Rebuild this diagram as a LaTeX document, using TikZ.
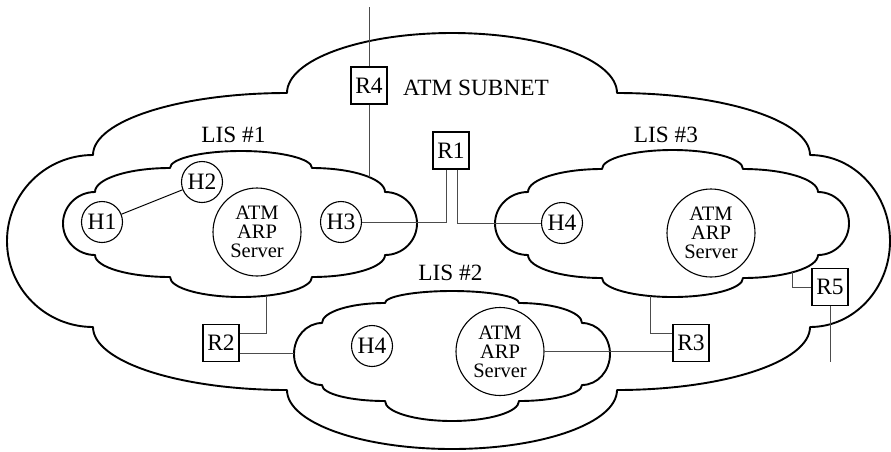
\documentclass[tikz,border=0pt]{standalone}
\usepackage{fontspec}
\setmainfont{Liberation Serif}
\begin{document}
\def\cloudsplitx#1,#2,#3,#4\relax{\def\cxL{#1}\def\cxa{#2}\def\cxb{#3}\def\cxR{#4}}
\def\cloudsplity#1,#2,#3,#4\relax{\def\cyt{#1}\def\cys{#2}\def\cyS{#3}\def\cyb{#4}}
\def\cloudsplitr#1,#2,#3,#4\relax{\def\crt{#1}\def\crb{#2}\def\crl{#3}\def\crr{#4}}
\newcommand\cloudshape[3]{%
  \cloudsplitx#1\relax\cloudsplity#2\relax\cloudsplitr#3\relax
  \pgfmathsetmacro\chw{(\cxb-\cxa)/2}%
  \pgfmathsetmacro\cqr{\cxR-\cxb}%
  \pgfmathsetmacro\cql{\cxa-\cxL}%
  \pgfmathsetmacro\cqt{\cys-\cyt}%
  \pgfmathsetmacro\cqb{\cyb-\cyS}%
  \pgfmathsetmacro\csh{(\cyS-\cys)/2}%
  \draw[cloudline] (\cxa,\cyt)
    arc[start angle=180,end angle=360,x radius=\chw,y radius=\crt]
    arc[start angle=270,end angle=360,x radius=\cqr,y radius=\cqt]
    arc[start angle=270,end angle=450,x radius=\crr,y radius=\csh]
    arc[start angle=0,end angle=90,x radius=\cqr,y radius=\cqb]
    arc[start angle=0,end angle=180,x radius=\chw,y radius=\crb]
    arc[start angle=90,end angle=180,x radius=\cql,y radius=\cqb]
    arc[start angle=90,end angle=270,x radius=\crl,y radius=\csh]
    arc[start angle=180,end angle=270,x radius=\cql,y radius=\cqt]
    -- cycle;}
\begin{tikzpicture}[x=1pt,y=-1pt,
  cloudline/.style={line width=1.9pt,line join=round},
  conn/.style={line width=1pt,draw=black!70},
  host/.style={circle,draw,line width=1.1pt,minimum size=41pt,inner sep=0pt,
    font=\fontsize{23.5}{24}\selectfont},
  server/.style={circle,draw,line width=1.1pt,minimum size=88pt,inner sep=0pt,
    align=center,font=\fontsize{20.5}{19}\selectfont},
  router/.style={rectangle,draw,line width=1.1pt,minimum width=36pt,minimum height=37pt,
    inner sep=0pt,fill=white,font=\fontsize{23.5}{24}\selectfont},
  lbl/.style={anchor=base,inner sep=0pt,font=\fontsize{23.3}{24}\selectfont}]
\useasboundingbox (0,0) rectangle (891,451);
% clouds
\cloudshape{93,287,617,810}{93,155,327,390}{60,59,86,80}
\cloudshape{95,170,312,385}{168,192,255,277}{17,20,32,32}
\cloudshape{528,602,743,818}{169,192,255,278}{19,19,33,31}
\cloudshape{322,385,519,582}{303,323,385,401}{12,20,28,28}
% labels
\node[lbl] (subnet) at (476,95) {ATM SUBNET};
\node[lbl] (lis1) at (233.5,142) {LIS \#1};
\node[lbl] (lis3) at (666,142) {LIS \#3};
\node[lbl] (lis2) at (450.5,280) {LIS \#2};
% hosts and servers
\node[host] (H1) at (102,222) {H1};
\node[host] (H2) at (202,182) {H2};
\node[host] (H3) at (341,222) {H3};
\node[host] (H4a) at (562,223) {H4};
\node[host] (H4b) at (372,346) {H4};
\node[server] (S1) at (257,232) {ATM\\ARP\\Server};
\node[server] (S3) at (711,233) {ATM\\ARP\\Server};
\node[server] (S2) at (500,351.5) {ATM\\ARP\\Server};
% routers
\node[router] (R4) at (369,85.5) {R4};
\node[router] (R1) at (451,150.5) {R1};
\node[router] (R2) at (221,343) {R2};
\node[router] (R3) at (691,343) {R3};
\node[router] (R5) at (830,287) {R5};
% coordinates on clouds / free ends
\coordinate (r4top) at (369,7);
\coordinate (lis1top) at (369,177);
\coordinate (lis1bot) at (266,296);
\coordinate (lis2w) at (294,353);
\coordinate (lis3bot) at (650,296);
\coordinate (lis3r5) at (792,272);
\coordinate (r5end) at (830,362);
% connectors
\draw[conn] (r4top) -- (R4.north);
\draw[conn] (R4.south) -- (lis1top);
\draw[conn,draw=black] (H1) -- (H2);
\draw[conn] (H3.east) -| ([xshift=-5pt]R1.south);
\draw[conn] ([xshift=6pt]R1.south) |- (H4a.west);
\draw[conn] (lis1bot) |- ([yshift=10pt]R2.east);
\draw[conn] ([yshift=-10pt]R2.east) -- (lis2w);
\draw[conn] (S2.east) -- (S2.east -| R3.west);
\draw[conn] (lis3bot) |- ([yshift=10pt]R3.west);
\draw[conn] (lis3r5) |- (R5.west);
\draw[conn] (R5.south) -- (r5end);
\end{tikzpicture}
\end{document}
